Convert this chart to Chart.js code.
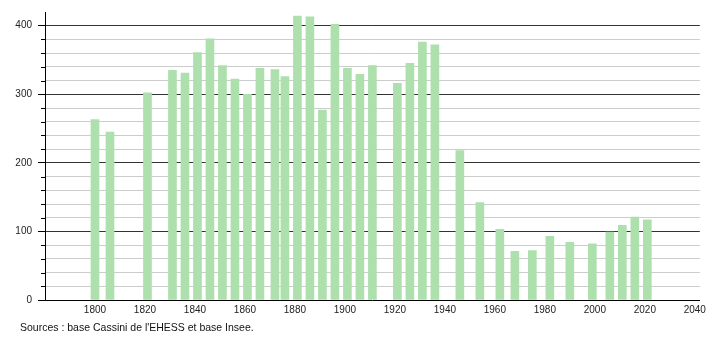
<!DOCTYPE html>
<html>
<head>
<meta charset="utf-8">
<script src="https://cdn.jsdelivr.net/npm/chart.js@4"></script>
<style>
  body { margin: 0; background: #fff; }
  #wrap { position: relative; width: 710px; height: 340px; }
  #source { position: absolute; left: 20px; top: 321px; font: 10.5px "Liberation Sans", Arial, sans-serif; color: #111; }
</style>
</head>
<body>
<div id="wrap">
  <canvas id="popChart" width="710" height="340"></canvas>
  <div id="source">Sources : base Cassini de l'EHESS et base Insee.</div>
</div>
<script>
// années de recensement
var years = [1800, 1806, 1821, 1831, 1836, 1841, 1846, 1851, 1856, 1861, 1866, 1872, 1876,
  1881, 1886, 1891, 1896, 1901, 1906, 1911, 1921, 1926, 1931, 1936, 1946, 1954, 1962,
  1968, 1975, 1982, 1990, 1999, 2006, 2011, 2016, 2021];
// population
var population = [263, 245, 302, 335, 331, 361, 381, 342, 322, 300, 338, 336, 326,
  414, 413, 277, 402, 338, 329, 342, 316, 345, 376, 372, 218, 142, 103,
  71, 72, 93, 84, 82, 99, 109, 121, 117];
var xTicks = [1800, 1820, 1840, 1860, 1880, 1900, 1920, 1940, 1960, 1980, 2000, 2020, 2040];

document.addEventListener('DOMContentLoaded', function() {
  var points = years.map(function(y, i) { return { x: y, y: population[i] }; });

  // petits traits pour les graduations secondaires
  var minorTicks = {
    id: 'minorTicks',
    afterDraw: function(chart) {
      var ys = chart.scales.y, ctx = chart.ctx;
      ctx.save();
      ctx.strokeStyle = '#000';
      ctx.lineWidth = 1;
      for (var v = 20; v <= 400; v += 20) {
        if (v % 100 === 0) continue;
        var py = Math.round(ys.getPixelForValue(v)) + 0.5;
        ctx.beginPath();
        ctx.moveTo(chart.chartArea.left - 4, py);
        ctx.lineTo(chart.chartArea.left, py);
        ctx.stroke();
      }
      ctx.restore();
    }
  };

  var ctx = document.getElementById('popChart').getContext('2d');
  new Chart(ctx, {
    type: 'bar',
    data: {
      datasets: [{
        data: points,
        backgroundColor: '#ade0ad',
        borderWidth: 0,
        barThickness: 8
      }]
    },
    options: {
      responsive: false,
      animation: false,
      layout: { padding: { top: 10, right: 10, left: 0, bottom: 0 } },
      plugins: { legend: { display: false }, tooltip: { enabled: false } },
      scales: {
        x: {
          type: 'linear',
          offset: false,
          min: 1780,
          max: 2042,
          afterBuildTicks: function(scale) {
            scale.ticks = xTicks.map(function(v) { return { value: v }; });
          },
          afterFit: function(scale) { scale.height = 40; },
          grid: { display: false, drawTicks: false, offset: false },
          border: { color: '#000', width: 1 },
          ticks: {
            padding: 4, color: '#222', font: { family: 'Liberation Sans', size: 10 },
            maxRotation: 0, autoSkip: false,
            callback: function(v) { return String(v); }
          }
        },
        y: {
          min: 0,
          max: 420,
          afterFit: function(scale) { scale.width = 45; },
          ticks: {
            stepSize: 20,
            autoSkip: false,
            padding: 6,
            color: '#222',
            font: { family: 'Liberation Sans', size: 10 },
            callback: function(v) { return v % 100 === 0 ? String(v) : ''; }
          },
          grid: {
            color: function(c) {
              if (c.tick.value === 0 || c.tick.value === 420) return 'rgba(0,0,0,0)';
              return c.tick.value % 100 === 0 ? '#333' : '#cccccc';
            },
            tickColor: function(c) { return c.tick.value % 100 === 0 ? '#000' : 'rgba(0,0,0,0)'; },
            tickLength: 7
          },
          border: { color: '#000', width: 1 }
        }
      }
    },
    plugins: [minorTicks]
  });
});
</script>
</body>
</html>
